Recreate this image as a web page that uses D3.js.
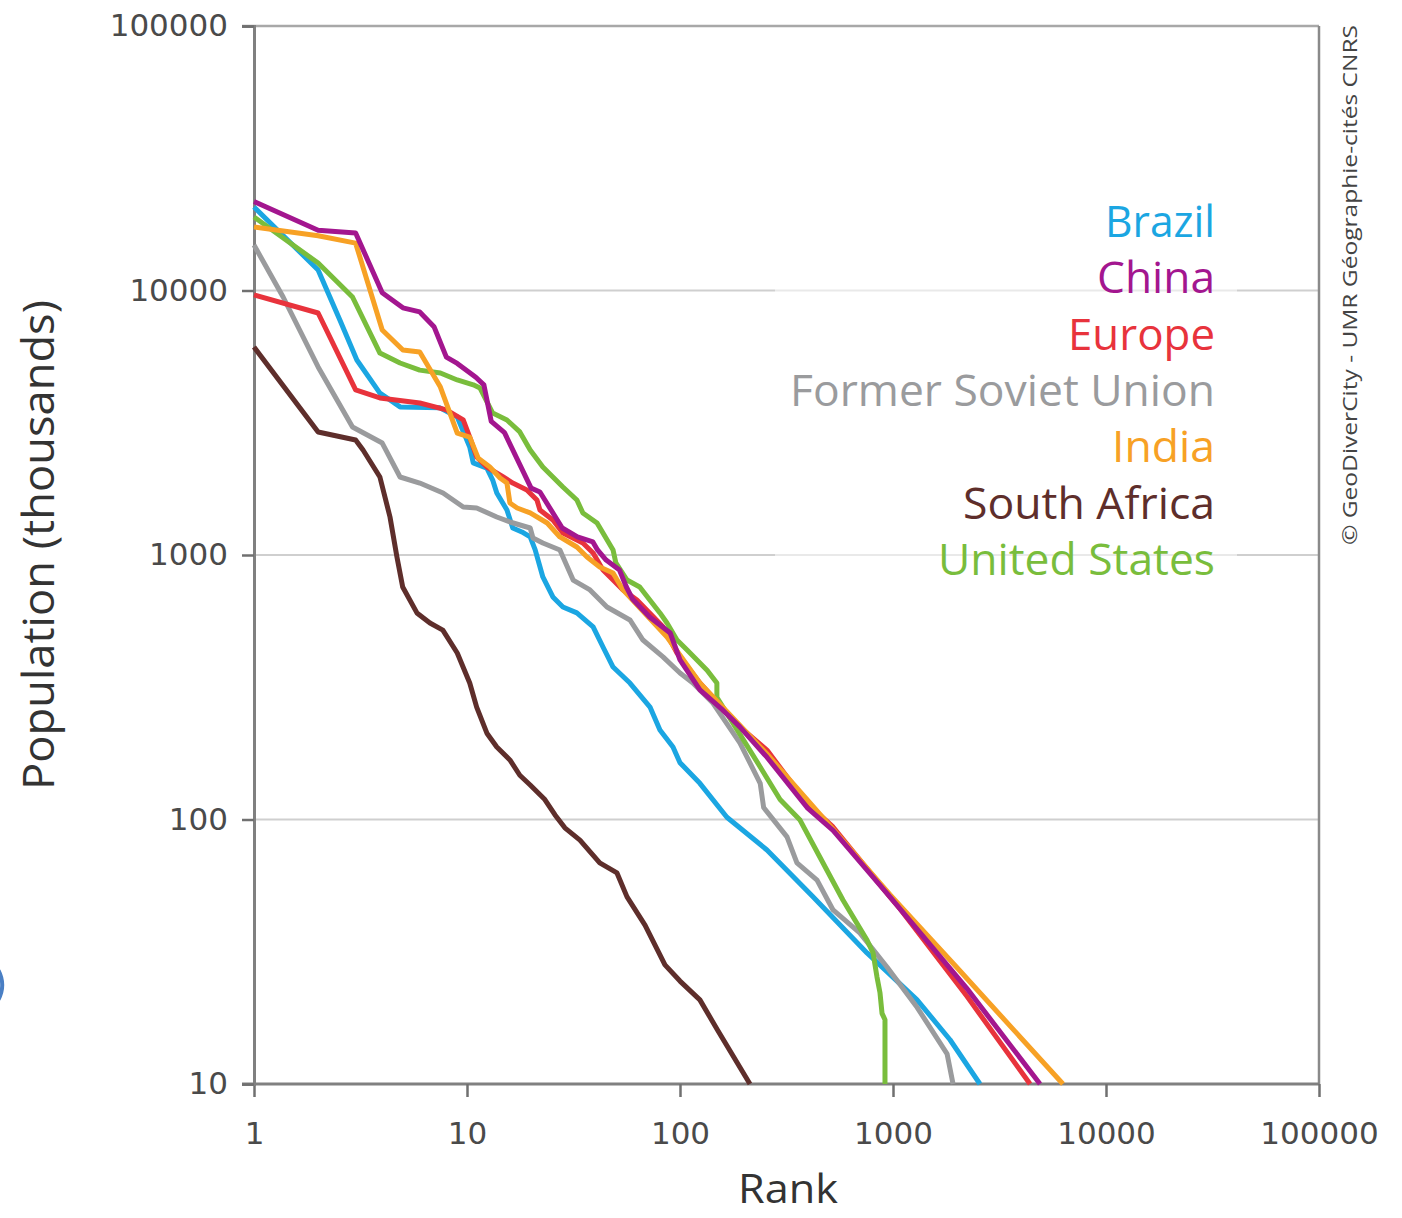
<!DOCTYPE html>
<html>
<head>
<meta charset="utf-8">
<script src="https://cdn.jsdelivr.net/npm/d3@7"></script>
<style>
  html, body { margin: 0; padding: 0; background: #ffffff; }
  svg { display: block; }
</style>
</head>
<body>
<svg id="chart" width="1402" height="1218"></svg>
<script>
// ---- data (rank, population in thousands) ----
const seriesNames = ["Brazil", "China", "Europe", "Former Soviet Union", "India", "South Africa", "United States"];
const seriesColors = ["#1ba6e2", "#a3168f", "#e8333c", "#9a9b9d", "#f7a125", "#5e2e2b", "#79bd3c"];

const brazil = [[1,20700],[2,11960],[2.53,7730],[3.04,5460],[3.9,4095],[4.85,3630],[7.47,3600],[9,3325],[10.3,2560],[10.7,2230],[12.4,2130],[13.2,1920],[13.8,1715],[15.4,1480],[16.4,1265],[18.1,1222],[19.8,1170],[20.9,1045],[22.7,826],[25.3,694],[28.2,636],[32.8,604],[39.1,535],[43.5,449],[48.5,377],[58.2,328],[72.3,266],[80.5,218],[92.7,188],[100,164],[124,137],[166,102],[256,76.7],[421,51],[755,31.3],[1297,20.8],[1852,14.7],[2560,10]];
const china = [[1,21700],[2,16900],[3,16500],[4,9800],[5,8600],[6,8300],[7,7300],[8,5600],[9,5300],[11,4700],[12,4400],[13,3200],[15,2900],[20,1790],[22,1730],[28,1265],[33,1170],[39,1120],[41,1045],[45,957],[52,877],[56,757],[60,680],[72,583],[90,507],[100,401],[124,309],[159,259],[191,224],[256,172],[395,111],[523,91],[968,51],[2220,23],[4900,10]];
const europe = [[1,9620],[2,8220],[3,4210],[3.9,3925],[6,3755],[8,3535],[9.6,3240],[10.3,2790],[11.1,2346],[12.4,2150],[14.8,1972],[16.4,1871],[19.1,1762],[21.3,1614],[22,1480],[25.3,1356],[28.2,1211],[35,1110],[39.1,1018],[43.5,877],[48.5,804],[54,738],[62.8,676],[83.2,535],[96.8,426],[124,328],[191,224],[256,183],[395,115],[523,93.7],[968,51],[1078,46],[2220,21.5],[4400,10]];
const fsu = [[1,14860],[1.37,9450],[2,5140],[2.9,3048],[4,2650],[4.85,1972],[6,1871],[7.72,1715],[9.6,1518],[11.1,1506],[13.8,1392],[15.9,1333],[19.8,1265],[20.4,1160],[22.7,1110],[27.3,1045],[31.5,804],[37.8,738],[45.4,636],[58.2,568],[67,477],[83.2,412],[100,358],[115,328],[143,275],[191,195],[238,137],[247,111],[318,86],[354,68.5],[440,59],[523,45.5],[700,37.2],[937,27.7],[1297,19.5],[1794,13],[1914,10]];
const india = [[1,17400],[2,16100],[3,15100],[4,7090],[5,5960],[6,5850],[7.5,4315],[9,2890],[10.3,2790],[11.3,2320],[12.8,2150],[14.3,1954],[15.4,1871],[15.9,1573],[17.2,1506],[19.8,1442],[23.8,1321],[27.3,1170],[32.8,1072],[36.6,982],[42,901],[48.5,855],[54,738],[86.9,490],[124,328],[256,177],[523,92],[968,52],[2000,27.5],[6280,10]];
const southAfrica = [[1,6110],[2,2917],[3,2722],[3.25,2494],[3.9,1972],[4.35,1392],[4.69,982],[4.99,757],[5.82,604],[6.7,553],[7.7,520],[9,426],[10.3,328],[11.1,266],[12.4,212],[13.8,188],[15.9,168],[17.7,147],[19.8,135],[23.2,119],[25.9,104],[28.8,93],[33.9,83.6],[42,68.5],[50.6,62.8],[56.4,51],[68.5,39.9],[85,28.2],[100,24.5],[124,20.8],[150,16],[213,10]];
const unitedStates = [[1,18960],[2,12700],[2.9,9450],[3.9,5800],[4.85,5320],[6,5000],[7.5,4875],[9,4590],[10.7,4400],[11.5,4280],[13.2,3440],[15.4,3240],[17.7,2920],[19.8,2494],[22.7,2150],[28.2,1807],[32.8,1614],[35,1442],[40.8,1321],[48.5,1045],[50,933],[56.4,804],[64.7,757],[80.5,604],[86.9,553],[96.8,477],[108,437],[134,367],[149,328],[149,290],[177,232],[238,158],[295,119],[366,99.5],[454,72],[582,49.6],[755,35],[806,31.3],[841,25.4],[869,22.1],[888,18.5],[917,17.5],[917,10]];

const seriesData = [brazil, china, europe, fsu, india, southAfrica, unitedStates];
const drawOrder = [0, 3, 5, 2, 6, 4, 1];

const xTicks = [1, 10, 100, 1000, 10000, 100000];
const yTicks = [10, 100, 1000, 10000, 100000];
const gridValues = [100, 1000, 10000];

const xTitle = "Rank";
const yTitle = "Population (thousands)";
const credit = "\u00A9 GeoDiverCity - UMR G\u00E9ographie-cit\u00E9s CNRS";

// ---- layout ----
const svg = d3.select("#chart");
const plotL = 254, plotR = 1319, plotT = 26, plotB = 1084;

const x = d3.scaleLog().domain([1, 100000]).range([plotL, plotR]);
const y = d3.scaleLog().domain([10, 100000]).range([plotB, plotT]);

// gridlines
svg.append("g").selectAll("line").data(gridValues).join("line")
  .attr("x1", plotL).attr("x2", plotR)
  .attr("y1", d => y(d)).attr("y2", d => y(d))
  .attr("stroke", "#cfcfcf").attr("stroke-width", 2);

// top and right frame
svg.append("line").attr("x1", plotL - 12).attr("x2", plotR).attr("y1", plotT).attr("y2", plotT)
  .attr("stroke", "#a8a8a8").attr("stroke-width", 2.5);
svg.append("line").attr("x1", plotR).attr("x2", plotR).attr("y1", plotT).attr("y2", plotB)
  .attr("stroke", "#8a8a8a").attr("stroke-width", 2.5);

// axes
const fmt = d3.format("d");
const xAxis = svg.append("g").attr("transform", `translate(0,${plotB})`)
  .call(d3.axisBottom(x).tickValues(xTicks).tickFormat(fmt).tickSize(13).tickPadding(25));
const yAxis = svg.append("g").attr("transform", `translate(${plotL},0)`)
  .call(d3.axisLeft(y).tickValues(yTicks).tickFormat(fmt).tickSize(12).tickPadding(14));

[xAxis, yAxis].forEach(a => {
  a.select(".domain").attr("stroke", "#808080").attr("stroke-width", 3);
  a.selectAll(".tick line").attr("stroke", "#707070").attr("stroke-width", 2.5);
  a.selectAll(".tick text")
    .attr("fill", "#4a4a4a")
    .style("font-family", "'DejaVu Sans', sans-serif")
    .style("font-size", "31px");
});
xAxis.select(".domain").attr("d", `M${plotL - 12},0H${plotR}`);

// legend backdrop (semi-transparent)
svg.append("rect").attr("x", 775).attr("y", 190).attr("width", 462).attr("height", 405)
  .attr("fill", "#ffffff").attr("opacity", 0.55);

// lines
const line = d3.line().x(d => x(d[0])).y(d => y(d[1])).curve(d3.curveLinear);
svg.append("g").selectAll("path").data(drawOrder).join("path")
  .attr("d", i => line(seriesData[i]))
  .attr("fill", "none")
  .attr("stroke", i => seriesColors[i])
  .attr("stroke-width", 5)
  .attr("stroke-linejoin", "round")
  .attr("stroke-linecap", "butt");

// legend
const legendBaselines = [237, 293, 350, 406, 462, 519, 575];
const legendWidths = [110, 118, 147, 425, 103, 252, 277];
svg.append("g").selectAll("text").data(seriesNames).join("text")
  .attr("x", 1215)
  .attr("y", (d, i) => legendBaselines[i])
  .attr("text-anchor", "end")
  .attr("fill", (d, i) => seriesColors[i])
  .attr("textLength", (d, i) => legendWidths[i])
  .attr("lengthAdjust", "spacingAndGlyphs")
  .style("font-family", "'Open Sans', 'Noto Sans', sans-serif")
  .style("font-size", "44px")
  .text(d => d);

// axis titles
svg.append("text")
  .attr("x", 788).attr("y", 1203)
  .attr("text-anchor", "middle")
  .attr("fill", "#333333")
  .attr("textLength", 100).attr("lengthAdjust", "spacingAndGlyphs")
  .style("font-family", "'Open Sans', 'Noto Sans', sans-serif")
  .style("font-size", "40px")
  .text(xTitle);

svg.append("text")
  .attr("transform", "translate(54,545) rotate(-90)")
  .attr("text-anchor", "middle")
  .attr("fill", "#333333")
  .attr("textLength", 490).attr("lengthAdjust", "spacingAndGlyphs")
  .style("font-family", "'Open Sans', 'Noto Sans', sans-serif")
  .style("font-size", "43px")
  .text(yTitle);

// credit
svg.append("text")
  .attr("transform", "translate(1357,285) rotate(-90)")
  .attr("text-anchor", "middle")
  .attr("fill", "#444444")
  .attr("textLength", 520).attr("lengthAdjust", "spacingAndGlyphs")
  .style("font-family", "'Open Sans', 'Noto Sans', sans-serif")
  .style("font-size", "20px")
  .text(credit);

// stray blue mark on the left edge
svg.append("path")
  .attr("d", d3.arc()({innerRadius: 30, outerRadius: 34, startAngle: Math.PI * 0.35, endAngle: Math.PI * 0.65}))
  .attr("transform", "translate(-30,985)")
  .attr("fill", "#4a7fc4");
</script>
</body>
</html>
